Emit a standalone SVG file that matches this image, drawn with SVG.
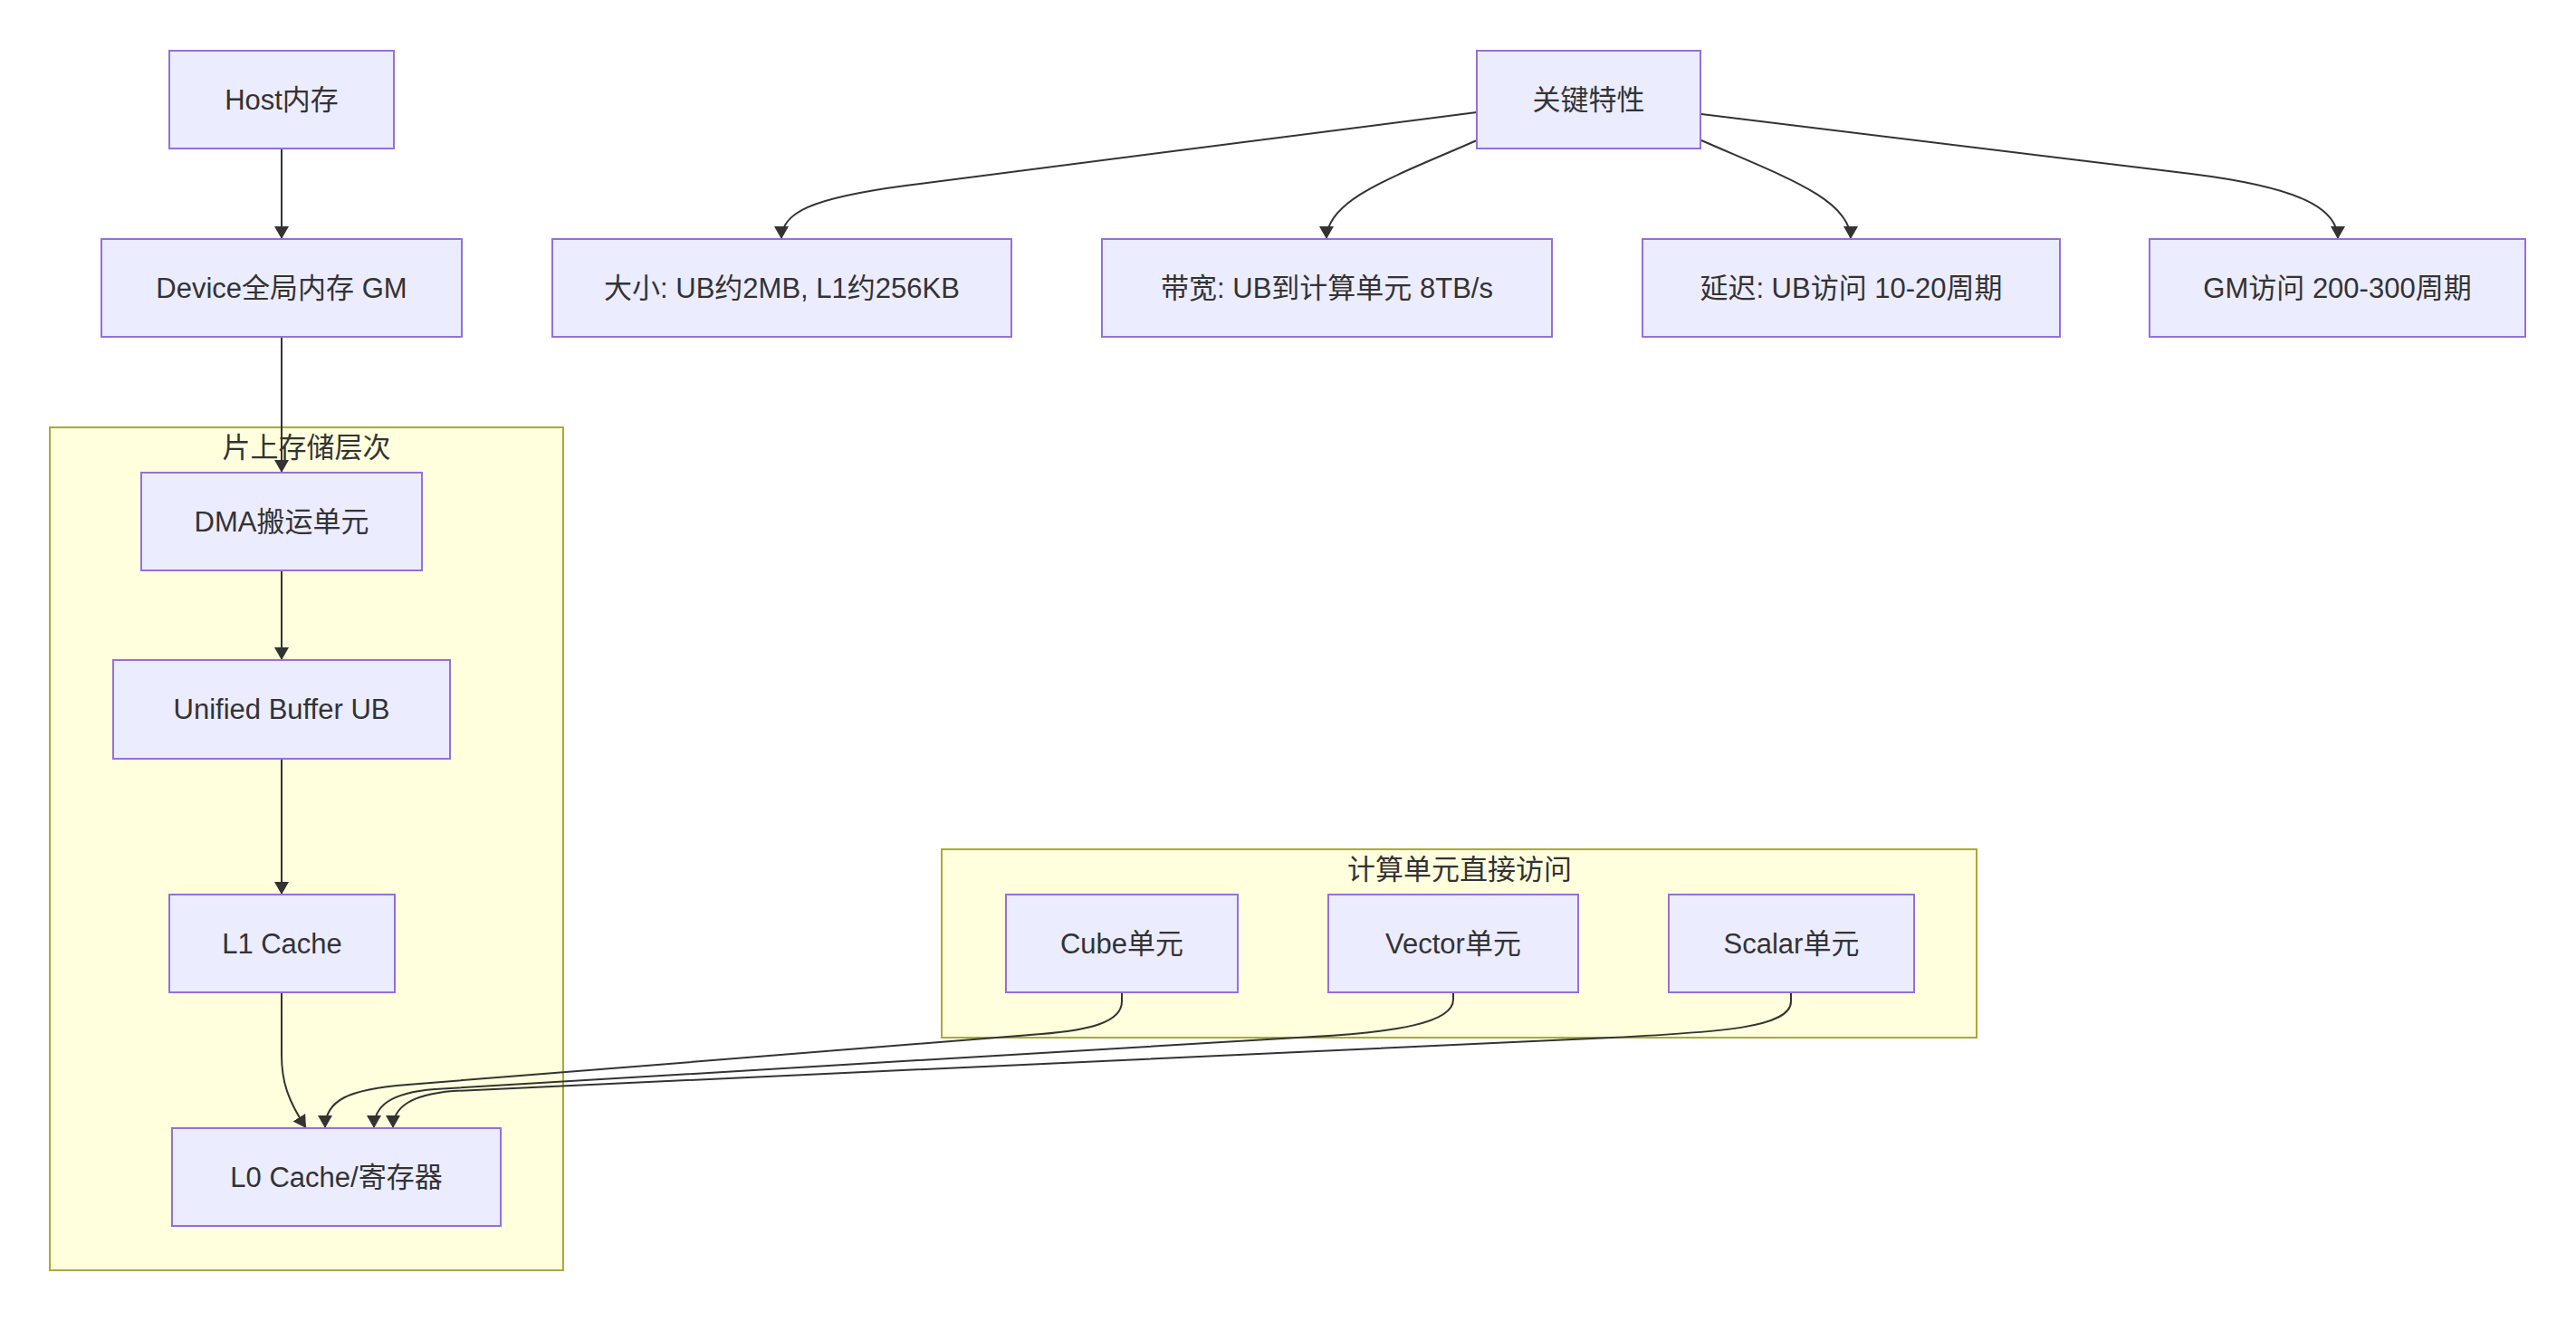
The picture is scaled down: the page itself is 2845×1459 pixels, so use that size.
<svg xmlns="http://www.w3.org/2000/svg" width="2845" height="1459" viewBox="0 0 2845 1459">
<style>
.node rect{fill:#ECECFF;stroke:#9370DB;stroke-width:2}
.cluster rect{fill:#FFFFDE;stroke:#AAAA33;stroke-width:2}
text{font-family:"Liberation Sans","Noto Sans CJK SC",sans-serif;font-size:31px;fill:#333333;text-anchor:middle;dominant-baseline:central}
.edges path{fill:none;stroke:#333333;stroke-width:2;marker-end:url(#arr)}
</style>
<defs>
<marker id="arr" markerUnits="userSpaceOnUse" markerWidth="16" markerHeight="16" viewBox="0 0 16 16" refX="14" refY="8" orient="auto">
<path d="M0,0 L14,8 L0,16 z" fill="#333333"/>
</marker>
</defs>
<rect width="2845" height="1459" fill="#ffffff"/>
<g id="cluster-onchip" class="cluster"><rect x="55" y="472" width="567" height="931"/><text x="338.5" y="494">片上存储层次</text></g>
<g id="cluster-compute" class="cluster"><rect x="1040" y="938" width="1143" height="208"/><text x="1612" y="960">计算单元直接访问</text></g>
<g id="edges" class="edges">
<path d="M311,164 L311,264"/>
<path d="M311,372 L311,522"/>
<path d="M311,630 L311,729"/>
<path d="M311,838 L311,988"/>
<path d="M311,1096 L311,1165 C311,1195 318,1215 338,1246"/>
<path d="M1239,1096 L1239,1106 C1239,1130 1200,1138 1150,1142 L450,1198 C385,1203 359,1215 359,1246"/>
<path d="M1605,1096 L1605,1104 C1605,1130 1540,1140 1450,1145 L480,1203 C430,1207 413,1222 413,1246"/>
<path d="M1978,1096 L1978,1106 C1978,1135 1900,1140 1780,1146 L500,1205 C455,1209 434,1222 434,1246"/>
<path d="M1631,124 L1000,205 C895,219 863,235 863,264"/>
<path d="M1631,155 C1540,195 1465,220 1465,264"/>
<path d="M1879,155 C1970,195 2044,220 2044,264"/>
<path d="M1879,126 L2420,192 C2540,207 2582,230 2582,264"/>
</g>
<g id="host" class="node"><rect x="187" y="56" width="248" height="108"/><text x="311" y="110">Host内存</text></g>
<g id="device" class="node"><rect x="112" y="264" width="398" height="108"/><text x="311" y="318">Device全局内存 GM</text></g>
<g id="dma" class="node"><rect x="156" y="522" width="310" height="108"/><text x="311" y="576">DMA搬运单元</text></g>
<g id="ub" class="node"><rect x="125" y="729" width="372" height="109"/><text x="311" y="783.5">Unified Buffer UB</text></g>
<g id="l1" class="node"><rect x="187" y="988" width="249" height="108"/><text x="311.5" y="1042">L1 Cache</text></g>
<g id="l0" class="node"><rect x="190" y="1246" width="363" height="108"/><text x="371.5" y="1300">L0 Cache/寄存器</text></g>
<g id="cube" class="node"><rect x="1111" y="988" width="256" height="108"/><text x="1239" y="1042">Cube单元</text></g>
<g id="vector" class="node"><rect x="1467" y="988" width="276" height="108"/><text x="1605" y="1042">Vector单元</text></g>
<g id="scalar" class="node"><rect x="1843" y="988" width="271" height="108"/><text x="1978.5" y="1042">Scalar单元</text></g>
<g id="keyfeat" class="node"><rect x="1631" y="56" width="247" height="108"/><text x="1754.5" y="110">关键特性</text></g>
<g id="size" class="node"><rect x="610" y="264" width="507" height="108"/><text x="863.5" y="318">大小: UB约2MB, L1约256KB</text></g>
<g id="bandwidth" class="node"><rect x="1217" y="264" width="497" height="108"/><text x="1465.5" y="318">带宽: UB到计算单元 8TB/s</text></g>
<g id="latency" class="node"><rect x="1814" y="264" width="461" height="108"/><text x="2044.5" y="318">延迟: UB访问 10-20周期</text></g>
<g id="gm" class="node"><rect x="2374" y="264" width="415" height="108"/><text x="2581.5" y="318">GM访问 200-300周期</text></g>
</svg>
